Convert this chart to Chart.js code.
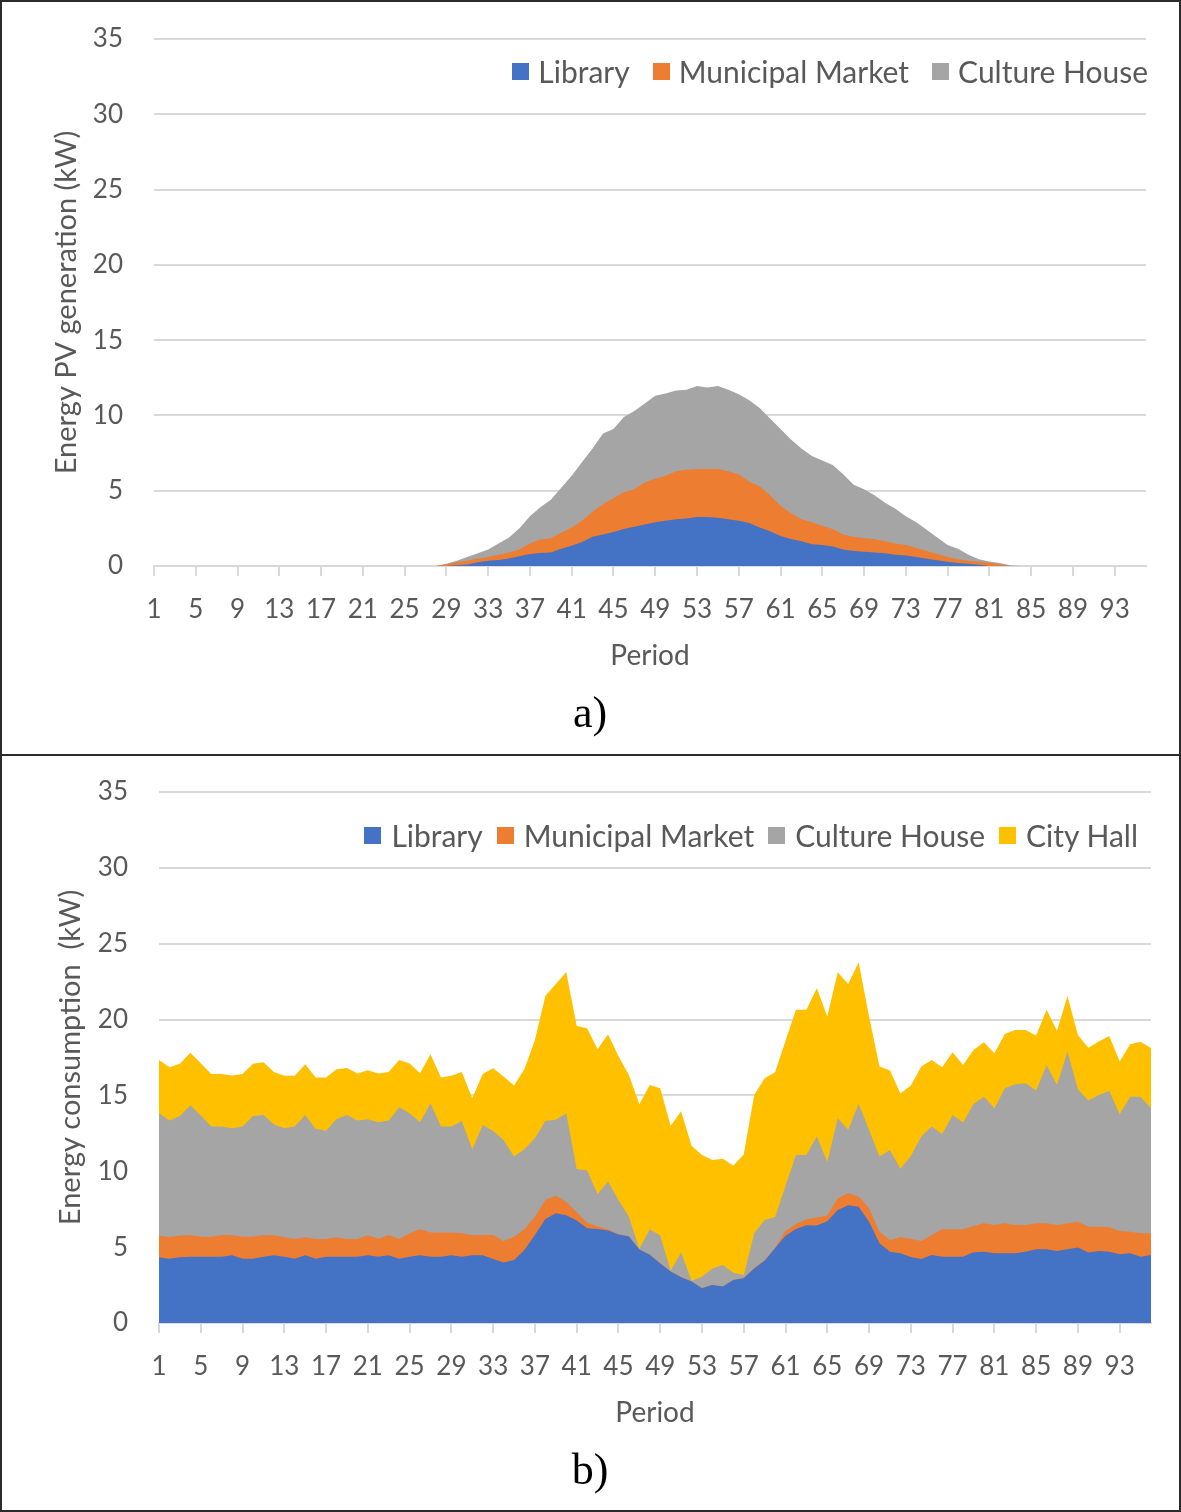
<!DOCTYPE html>
<html lang="en">
<head>
<meta charset="UTF-8">
<title>Energy PV generation and consumption per period</title>
<script src="https://cdn.jsdelivr.net/npm/chart.js@4.4.1/dist/chart.umd.min.js"></script>
<style>
  body { margin: 0; background: #fff; font-family: Lato, sans-serif; }
  .page { position: relative; width: 1181px; height: 1512px; overflow: hidden; }
  .page canvas { position: absolute; left: 0; }
  .frame { position: absolute; left: 0; top: 0; width: 1181px; height: 1512px; box-sizing: border-box; border: 2px solid #2b2b2b; pointer-events: none; }
  .sep { position: absolute; left: 0; top: 754px; width: 1181px; height: 2px; background: #2b2b2b; }
  .legend { position: absolute; display: flex; align-items: center; height: 34px; color: #595959; font-size: 30px; white-space: nowrap; }
  .legend span.box { display: inline-block; width: 17px; height: 17px; margin-right: 9px; }
  .legend .item { display: flex; align-items: center; margin-left: 23px; }
  #legendB .item { margin-left: 14px; }
  #legendB span.box { margin-right: 10px; }
  .tag { position: absolute; width: 120px; text-align: center; font-family: "Liberation Serif", "Times New Roman", serif; font-size: 44px; color: #000; line-height: 50px; }
</style>
</head>
<body>
<div class="page">
  <canvas id="pvChart" width="1181" height="755" style="top:0"></canvas>
  <canvas id="loadChart" width="1181" height="755" style="top:757px"></canvas>

  <div class="legend" id="legendA" style="right:33px; top:54px"></div>
  <div class="legend" id="legendB" style="right:43px; top:818px"></div>

  <div class="tag" style="left:530px; top:688px">a)</div>
  <div class="tag" style="left:530px; top:1445px">b)</div>

  <div class="sep"></div>
  <div class="frame"></div>
</div>

<script>
// periods 1..96 (15 min steps)
const periods = [
  1, 2, 3, 4, 5, 6, 7, 8, 9, 10, 11, 12, 13, 14, 15, 16, 17, 18, 19, 20,
  21, 22, 23, 24, 25, 26, 27, 28, 29, 30, 31, 32, 33, 34, 35, 36, 37, 38, 39, 40,
  41, 42, 43, 44, 45, 46, 47, 48, 49, 50, 51, 52, 53, 54, 55, 56, 57, 58, 59, 60,
  61, 62, 63, 64, 65, 66, 67, 68, 69, 70, 71, 72, 73, 74, 75, 76, 77, 78, 79, 80,
  81, 82, 83, 84, 85, 86, 87, 88, 89, 90, 91, 92, 93, 94, 95, 96
];

const yTicks = [0, 5, 10, 15, 20, 25, 30, 35];

const colorLibrary = '#4472c4';
const colorMarket = '#ed7d31';
const colorCulture = '#a5a5a5';
const colorCityHall = '#ffc000';

// a) PV generation (kW)
const pvLibrary = [
  0, 0, 0, 0, 0, 0, 0, 0, 0, 0, 0, 0, 0, 0, 0, 0, 0, 0, 0, 0,
  0, 0, 0, 0, 0, 0, 0, 0, 0, 0.05, 0.1, 0.25, 0.35, 0.4, 0.5, 0.65, 0.8, 0.86, 0.9, 1.15,
  1.35, 1.6, 1.95, 2.1, 2.25, 2.45, 2.6, 2.75, 2.9, 3.0, 3.1, 3.15, 3.25, 3.25, 3.2, 3.1, 3.0, 2.85, 2.55, 2.3,
  2.0, 1.8, 1.65, 1.45, 1.4, 1.3, 1.1, 1.0, 0.95, 0.9, 0.85, 0.75, 0.7, 0.6, 0.48, 0.38, 0.28, 0.2, 0.15, 0.08,
  0, 0, 0, 0, 0, 0, 0, 0, 0, 0, 0, 0, 0, 0, 0, 0
];
const pvMarket = [
  0, 0, 0, 0, 0, 0, 0, 0, 0, 0, 0, 0, 0, 0, 0, 0, 0, 0, 0, 0,
  0, 0, 0, 0, 0, 0, 0, 0, 0.1, 0.2, 0.25, 0.25, 0.25, 0.35, 0.4, 0.45, 0.7, 0.9, 0.95, 1.05,
  1.2, 1.4, 1.65, 2.0, 2.25, 2.45, 2.5, 2.8, 2.9, 3.0, 3.2, 3.25, 3.2, 3.2, 3.25, 3.2, 3.1, 2.75, 2.75, 2.4,
  2.0, 1.7, 1.45, 1.45, 1.25, 1.15, 1.0, 0.95, 0.9, 0.9, 0.8, 0.75, 0.7, 0.6, 0.52, 0.42, 0.32, 0.25, 0.2, 0.2,
  0.22, 0.1, 0, 0, 0, 0, 0, 0, 0, 0, 0, 0, 0, 0, 0, 0
];
const pvCulture = [
  0, 0, 0, 0, 0, 0, 0, 0, 0, 0, 0, 0, 0, 0, 0, 0, 0, 0, 0, 0,
  0, 0, 0, 0, 0, 0, 0, 0, 0.05, 0.1, 0.25, 0.35, 0.5, 0.75, 1.0, 1.4, 1.8, 2.15, 2.55, 3.0,
  3.45, 3.9, 4.2, 4.7, 4.6, 5.0, 5.2, 5.25, 5.5, 5.45, 5.35, 5.3, 5.5, 5.4, 5.5, 5.4, 5.3, 5.4, 5.2, 5.1,
  5.1, 4.9, 4.7, 4.4, 4.35, 4.25, 4.0, 3.45, 3.25, 2.9, 2.55, 2.3, 1.9, 1.7, 1.4, 1.1, 0.8, 0.7, 0.4, 0.17,
  0.08, 0.1, 0.05, 0, 0, 0, 0, 0, 0, 0, 0, 0, 0, 0, 0, 0
];

// b) consumption (kW)
const useLibrary = [
  4.33, 4.24, 4.33, 4.37, 4.37, 4.37, 4.37, 4.46, 4.24, 4.24, 4.37, 4.46, 4.37, 4.24, 4.46, 4.24, 4.37, 4.37, 4.37, 4.37,
  4.46, 4.37, 4.46, 4.24, 4.37, 4.46, 4.37, 4.37, 4.46, 4.37, 4.46, 4.46, 4.22, 3.98, 4.15, 4.81, 5.80, 6.86, 7.23, 7.10,
  6.75, 6.24, 6.20, 6.10, 5.83, 5.70, 4.84, 4.50, 3.93, 3.40, 3.02, 2.73, 2.29, 2.51, 2.40, 2.84, 2.95, 3.60, 4.10, 4.92,
  5.75, 6.20, 6.45, 6.43, 6.70, 7.45, 7.76, 7.67, 6.68, 5.25, 4.70, 4.59, 4.35, 4.22, 4.48, 4.37, 4.37, 4.37, 4.66, 4.70,
  4.59, 4.59, 4.59, 4.70, 4.86, 4.86, 4.75, 4.86, 4.97, 4.64, 4.75, 4.70, 4.53, 4.59, 4.37, 4.48
];
const useMarket = [
  1.43, 1.41, 1.43, 1.43, 1.32, 1.32, 1.43, 1.34, 1.45, 1.45, 1.43, 1.32, 1.28, 1.30, 1.19, 1.30, 1.17, 1.28, 1.17, 1.17,
  1.32, 1.19, 1.34, 1.30, 1.54, 1.72, 1.59, 1.59, 1.50, 1.54, 1.34, 1.34, 1.58, 1.43, 1.54, 1.37, 1.21, 1.25, 1.17, 0.90,
  0.55, 0.36, 0.18, 0.08, 0.02, 0.02, 0.00, 0.02, 0.02, 0.00, 0.02, 0.00, 0.01, 0.01, 0.01, 0.01, 0.01, 0.02, 0.03, 0.04,
  0.32, 0.33, 0.39, 0.52, 0.38, 0.77, 0.79, 0.66, 0.88, 0.77, 0.77, 1.06, 1.20, 1.19, 1.32, 1.81, 1.81, 1.81, 1.74, 1.87,
  1.87, 1.98, 1.87, 1.76, 1.71, 1.71, 1.71, 1.71, 1.71, 1.71, 1.60, 1.61, 1.54, 1.43, 1.54, 1.43
];
const useCulture = [
  8.06, 7.69, 7.89, 8.55, 7.98, 7.26, 7.15, 7.04, 7.26, 7.96, 7.91, 7.30, 7.19, 7.41, 8.06, 7.25, 7.14, 7.80, 8.17, 7.80,
  7.65, 7.67, 7.54, 8.68, 7.91, 7.05, 8.52, 6.99, 6.99, 7.41, 5.65, 7.25, 6.86, 6.66, 5.28, 5.27, 5.17, 5.21, 5.00, 5.82,
  2.85, 3.45, 2.10, 3.14, 2.26, 1.29, 0.05, 1.66, 1.82, 0.05, 1.60, 0.05, 0.75, 1.08, 1.41, 0.47, 0.20, 2.29, 2.66, 2.03,
  2.98, 4.55, 4.24, 5.36, 3.53, 5.27, 4.18, 6.11, 5.17, 4.95, 5.94, 4.52, 5.45, 6.88, 7.15, 6.28, 7.53, 7.03, 8.04, 8.35,
  7.69, 8.90, 9.28, 9.34, 8.75, 10.44, 9.23, 11.32, 8.73, 8.31, 8.68, 8.99, 7.69, 8.90, 9.01, 8.24
];
const useCityHall = [
  3.52, 3.52, 3.43, 3.47, 3.45, 3.47, 3.47, 3.47, 3.47, 3.43, 3.48, 3.47, 3.45, 3.34, 3.34, 3.39, 3.50, 3.28, 3.10, 3.10,
  3.23, 3.21, 3.21, 3.12, 3.28, 3.23, 3.23, 3.23, 3.34, 3.23, 3.36, 3.37, 4.13, 4.17, 4.68, 5.30, 6.48, 8.24, 8.95, 9.31,
  9.42, 9.37, 9.57, 9.72, 9.47, 9.34, 9.53, 9.51, 9.70, 9.55, 9.32, 8.90, 8.03, 7.15, 7.00, 7.04, 7.97, 9.12, 9.34, 9.53,
  9.55, 9.56, 9.56, 9.76, 9.59, 9.63, 9.61, 9.34, 7.47, 5.93, 5.23, 4.95, 4.66, 4.61, 4.39, 4.40, 4.14, 3.80, 3.56, 3.59,
  3.63, 3.58, 3.58, 3.52, 3.63, 3.63, 3.58, 3.67, 3.58, 3.49, 3.52, 3.62, 3.47, 3.45, 3.61, 3.98
];

Chart.defaults.font.family = 'Lato, sans-serif';
Chart.defaults.color = '#595959';

function area(label, data, color) {
  return {
    label: label,
    data: data,
    backgroundColor: color,
    borderColor: 'rgba(0,0,0,0)',
    borderWidth: 0,
    pointRadius: 0,
    tension: 0,
    fill: 'origin'
  };
}

function makeChart(id, datasets, yTitle, box) {
  return new Chart(document.getElementById(id), {
    type: 'line',
    data: { labels: periods, datasets: datasets },
    options: {
      responsive: false,
      animation: false,
      events: [],
      layout: { padding: { top: box.top, right: box.right, left: 0, bottom: 0 } },
      plugins: { legend: { display: false }, tooltip: { enabled: false } },
      scales: {
        x: {
          grid: {
            drawOnChartArea: false,
            drawTicks: true,
            tickLength: 10,
            lineWidth: 2,
            color: ctx => (ctx.index % 4 === 0 ? '#d9d9d9' : 'rgba(0,0,0,0)')
          },
          border: { display: true, color: '#d9d9d9', width: 2 },
          ticks: {
            autoSkip: false,
            maxRotation: 0,
            padding: 18,
            font: { size: 26 },
            callback: (v, i) => (i % 4 === 0 ? String(periods[i]) : '')
          },
          title: { display: true, text: 'Period', font: { size: 28 }, padding: { top: 0, bottom: 82 } },
          afterFit: s => { s.height = 189; }
        },
        y: {
          stacked: true,
          min: 0,
          max: 35,
          afterBuildTicks: s => { s.ticks = yTicks.map(v => ({ value: v })); },
          // the gap before the labels comes from an invisible tick mark,
          // so it doesn't push the plot area down
          grid: { color: '#d9d9d9', lineWidth: 2, drawTicks: true, tickLength: 31, tickColor: 'rgba(0,0,0,0)' },
          border: { display: false },
          ticks: { padding: 0, font: { size: 26 } },
          title: { display: true, text: yTitle, font: { size: 29 }, padding: { top: box.titleGap, bottom: 0 } },
          afterFit: s => { s.width = box.left; }
        }
      }
    }
  });
}

makeChart('pvChart', [
  area('Library', pvLibrary, colorLibrary),
  area('Municipal Market', pvMarket, colorMarket),
  area('Culture House', pvCulture, colorCulture)
], 'Energy PV generation (kW)', { top: 39, right: 35, left: 154, titleGap: 49 });

makeChart('loadChart', [
  area('Library', useLibrary, colorLibrary),
  area('Municipal Market', useMarket, colorMarket),
  area('Culture House', useCulture, colorCulture),
  area('City Hall', useCityHall, colorCityHall)
], 'Energy consumption  (kW)', { top: 35, right: 30, left: 159, titleGap: 53 });

function fillLegend(id, names, colors) {
  const el = document.getElementById(id);
  names.forEach((n, i) => {
    const item = document.createElement('div');
    item.className = 'item';
    const box = document.createElement('span');
    box.className = 'box';
    box.style.background = colors[i];
    item.appendChild(box);
    item.appendChild(document.createTextNode(n));
    el.appendChild(item);
  });
}
fillLegend('legendA', ['Library', 'Municipal Market', 'Culture House'], [colorLibrary, colorMarket, colorCulture]);
fillLegend('legendB', ['Library', 'Municipal Market', 'Culture House', 'City Hall'], [colorLibrary, colorMarket, colorCulture, colorCityHall]);
</script>
</body>
</html>
